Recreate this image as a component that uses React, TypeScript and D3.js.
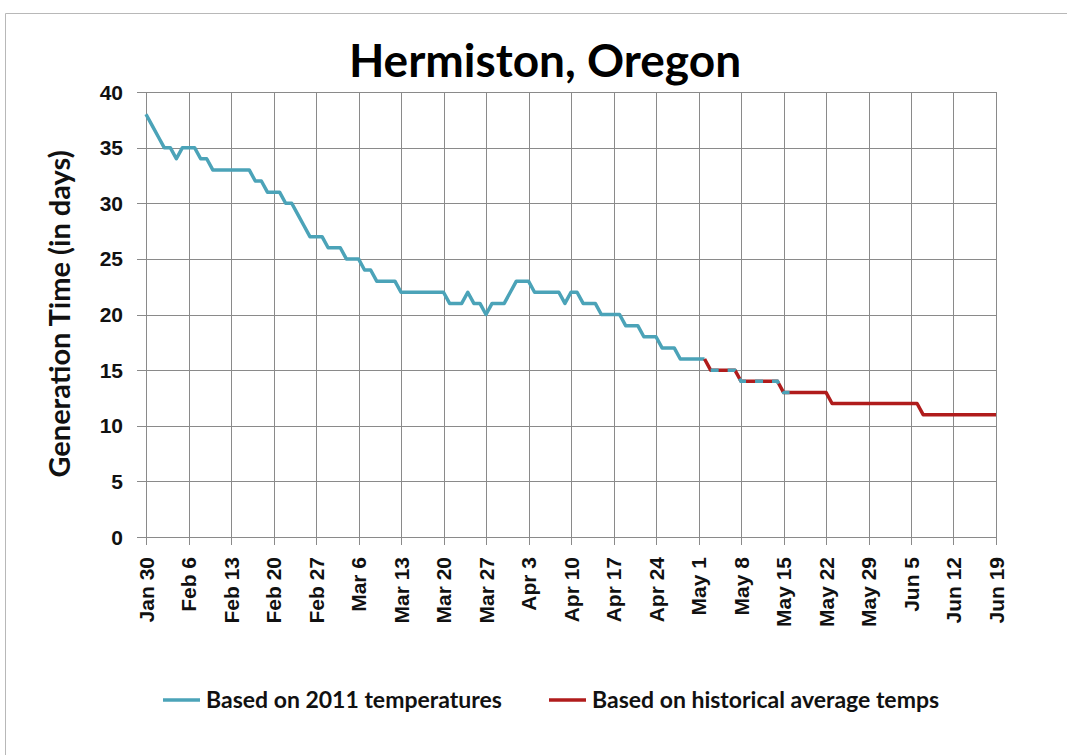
import { useEffect, useRef } from "react";
import * as d3 from "d3";

// daily generation time (days), starting Jan 30 2011
const startBlue = new Date(Date.UTC(2011, 0, 30));
const blueValues = [
  38, 37, 36, 35, 35, 34, 35, 35, 35, 34, 34, 33, 33, 33, 33, 33, 33, 33, 32, 32,
  31, 31, 31, 30, 30, 29, 28, 27, 27, 27, 26, 26, 26, 25, 25, 25, 24, 24, 23, 23,
  23, 23, 22, 22, 22, 22, 22, 22, 22, 22, 21, 21, 21, 22, 21, 21, 20, 21, 21, 21,
  22, 23, 23, 23, 22, 22, 22, 22, 22, 21, 22, 22, 21, 21, 21, 20, 20, 20, 20, 19,
  19, 19, 18, 18, 18, 17, 17, 17, 16, 16, 16, 16, 16, 15, 15, 15, 15, 15, 14, 14,
  14, 14, 14, 14, 14, 13, 13,
];

// historical averages, starting May 2 2011
const startRed = new Date(Date.UTC(2011, 4, 2));
const redValues = [
  16, 15, 15, 15, 15, 15, 14, 14, 14, 14, 14, 14, 14, 13, 13, 13, 13, 13, 13, 13,
  13, 12, 12, 12, 12, 12, 12, 12, 12, 12, 12, 12, 12, 12, 12, 12, 11, 11, 11, 11,
  11, 11, 11, 11, 11, 11, 11, 11, 11,
];

const yTicks = [0, 5, 10, 15, 20, 25, 30, 35, 40];
const xDomain = [new Date(Date.UTC(2011, 0, 30)), new Date(Date.UTC(2011, 5, 19))];

const seriesNames = ["Based on 2011 temperatures", "Based on historical average temps"];
const seriesColors = ["#4ba3b8", "#b01c1c"];

type Pt = { date: Date; value: number };

const toPoints = (start: Date, vals: number[]): Pt[] =>
  vals.map((v, i) => ({ date: d3.utcDay.offset(start, i), value: v }));

export default function App() {
  const ref = useRef<SVGSVGElement | null>(null);

  useEffect(() => {
    const svgEl = ref.current;
    if (!svgEl) return;
    const svg = d3.select(svgEl);
    svg.selectAll("*").remove();

    const W = 1067, H = 755;
    const left = 146, right = 996, top = 92, bottom = 537;
    const tickFont = "'Liberation Sans', Arial, sans-serif";
    const calFont = "Lato, 'Open Sans', sans-serif";

    svg.attr("width", W).attr("height", H);
    svg.append("rect").attr("width", W).attr("height", H).attr("fill", "#fff");

    // outer chart frame (only top/left visible)
    svg.append("path")
      .attr("d", `M5.5,${H} V13.5 H${W}`)
      .attr("fill", "none")
      .attr("stroke", "#b8b8b8")
      .attr("stroke-width", 1);

    const x = d3.scaleUtc().domain(xDomain).range([left, right]);
    const y = d3.scaleLinear().domain([0, 40]).range([bottom, top]);

    const weekTicks = d3.utcWeek.range(xDomain[0], d3.utcDay.offset(xDomain[1], 1));
    const fmt = d3.utcFormat("%b %-d");

    const grid = svg.append("g").attr("stroke", "#8a8a8a").attr("stroke-width", 1);
    // horizontal grid + y ticks
    grid.selectAll("line.h")
      .data(yTicks)
      .enter()
      .append("line")
      .attr("x1", left - 9)
      .attr("x2", right)
      .attr("y1", (d) => Math.round(y(d)) + 0.5)
      .attr("y2", (d) => Math.round(y(d)) + 0.5);
    // vertical grid + x ticks
    grid.selectAll("line.v")
      .data(weekTicks)
      .enter()
      .append("line")
      .attr("x1", (d) => Math.round(x(d)) + 0.5)
      .attr("x2", (d) => Math.round(x(d)) + 0.5)
      .attr("y1", top)
      .attr("y2", bottom + 8);

    // y labels
    svg.append("g")
      .selectAll("text")
      .data(yTicks)
      .enter()
      .append("text")
      .attr("x", 123)
      .attr("y", (d) => y(d))
      .attr("dy", "0.36em")
      .attr("text-anchor", "end")
      .attr("font-family", tickFont)
      .attr("font-weight", "bold")
      .attr("font-size", 21)
      .attr("fill", "#111")
      .text((d) => d);

    // x labels (rotated)
    svg.append("g")
      .selectAll("text")
      .data(weekTicks)
      .enter()
      .append("text")
      .attr("transform", (d) => `translate(${x(d) + 7.5},557) rotate(-90)`)
      .attr("text-anchor", "end")
      .attr("font-family", tickFont)
      .attr("font-weight", "bold")
      .attr("font-size", 21)
      .attr("fill", "#111")
      .text((d) => fmt(d));

    // lines
    const line = d3.line<Pt>()
      .x((d) => x(d.date))
      .y((d) => y(d.value));

    const blue = toPoints(startBlue, blueValues);
    const red = toPoints(startRed, redValues);
    const overlapStart = blue.findIndex((d) => +d.date === +startRed);

    svg.append("path")
      .datum(blue.slice(0, overlapStart + 1))
      .attr("d", line)
      .attr("fill", "none")
      .attr("stroke", seriesColors[0])
      .attr("stroke-width", 3.5)
      .attr("stroke-linejoin", "round");

    svg.append("path")
      .datum(red)
      .attr("d", line)
      .attr("fill", "none")
      .attr("stroke", seriesColors[1])
      .attr("stroke-width", 3.5)
      .attr("stroke-linejoin", "round");

    // overlapping stretch shows both colours interleaved
    svg.append("path")
      .datum(blue.slice(overlapStart + 1))
      .attr("d", line)
      .attr("fill", "none")
      .attr("stroke", seriesColors[0])
      .attr("stroke-width", 3.5)
      .attr("stroke-dasharray", "8 9");

    // title
    svg.append("text")
      .attr("x", 545)
      .attr("y", 77)
      .attr("text-anchor", "middle")
      .attr("font-family", calFont)
      .attr("font-weight", "bold")
      .attr("font-size", 46)
      .attr("fill", "#000")
      .text("Hermiston, Oregon");

    // y-axis title
    svg.append("text")
      .attr("transform", `translate(70,314) rotate(-90)`)
      .attr("text-anchor", "middle")
      .attr("font-family", calFont)
      .attr("font-weight", "bold")
      .attr("font-size", 29)
      .attr("fill", "#111")
      .text("Generation Time (in days)");

    // legend
    const legendX = [163, 549];
    const lg = svg.append("g");
    seriesNames.forEach((name, i) => {
      lg.append("line")
        .attr("x1", legendX[i])
        .attr("x2", legendX[i] + 37)
        .attr("y1", 700)
        .attr("y2", 700)
        .attr("stroke", seriesColors[i])
        .attr("stroke-width", 3.5);
      lg.append("text")
        .attr("x", legendX[i] + 43)
        .attr("y", 708)
        .attr("font-family", calFont)
        .attr("font-weight", "bold")
        .attr("font-size", 23)
        .attr("fill", "#111")
        .text(name);
    });
  }, []);

  return (
    <div style={{ position: "absolute", left: 0, top: 0 }}>
      <svg ref={ref} style={{ display: "block" }} />
    </div>
  );
}
